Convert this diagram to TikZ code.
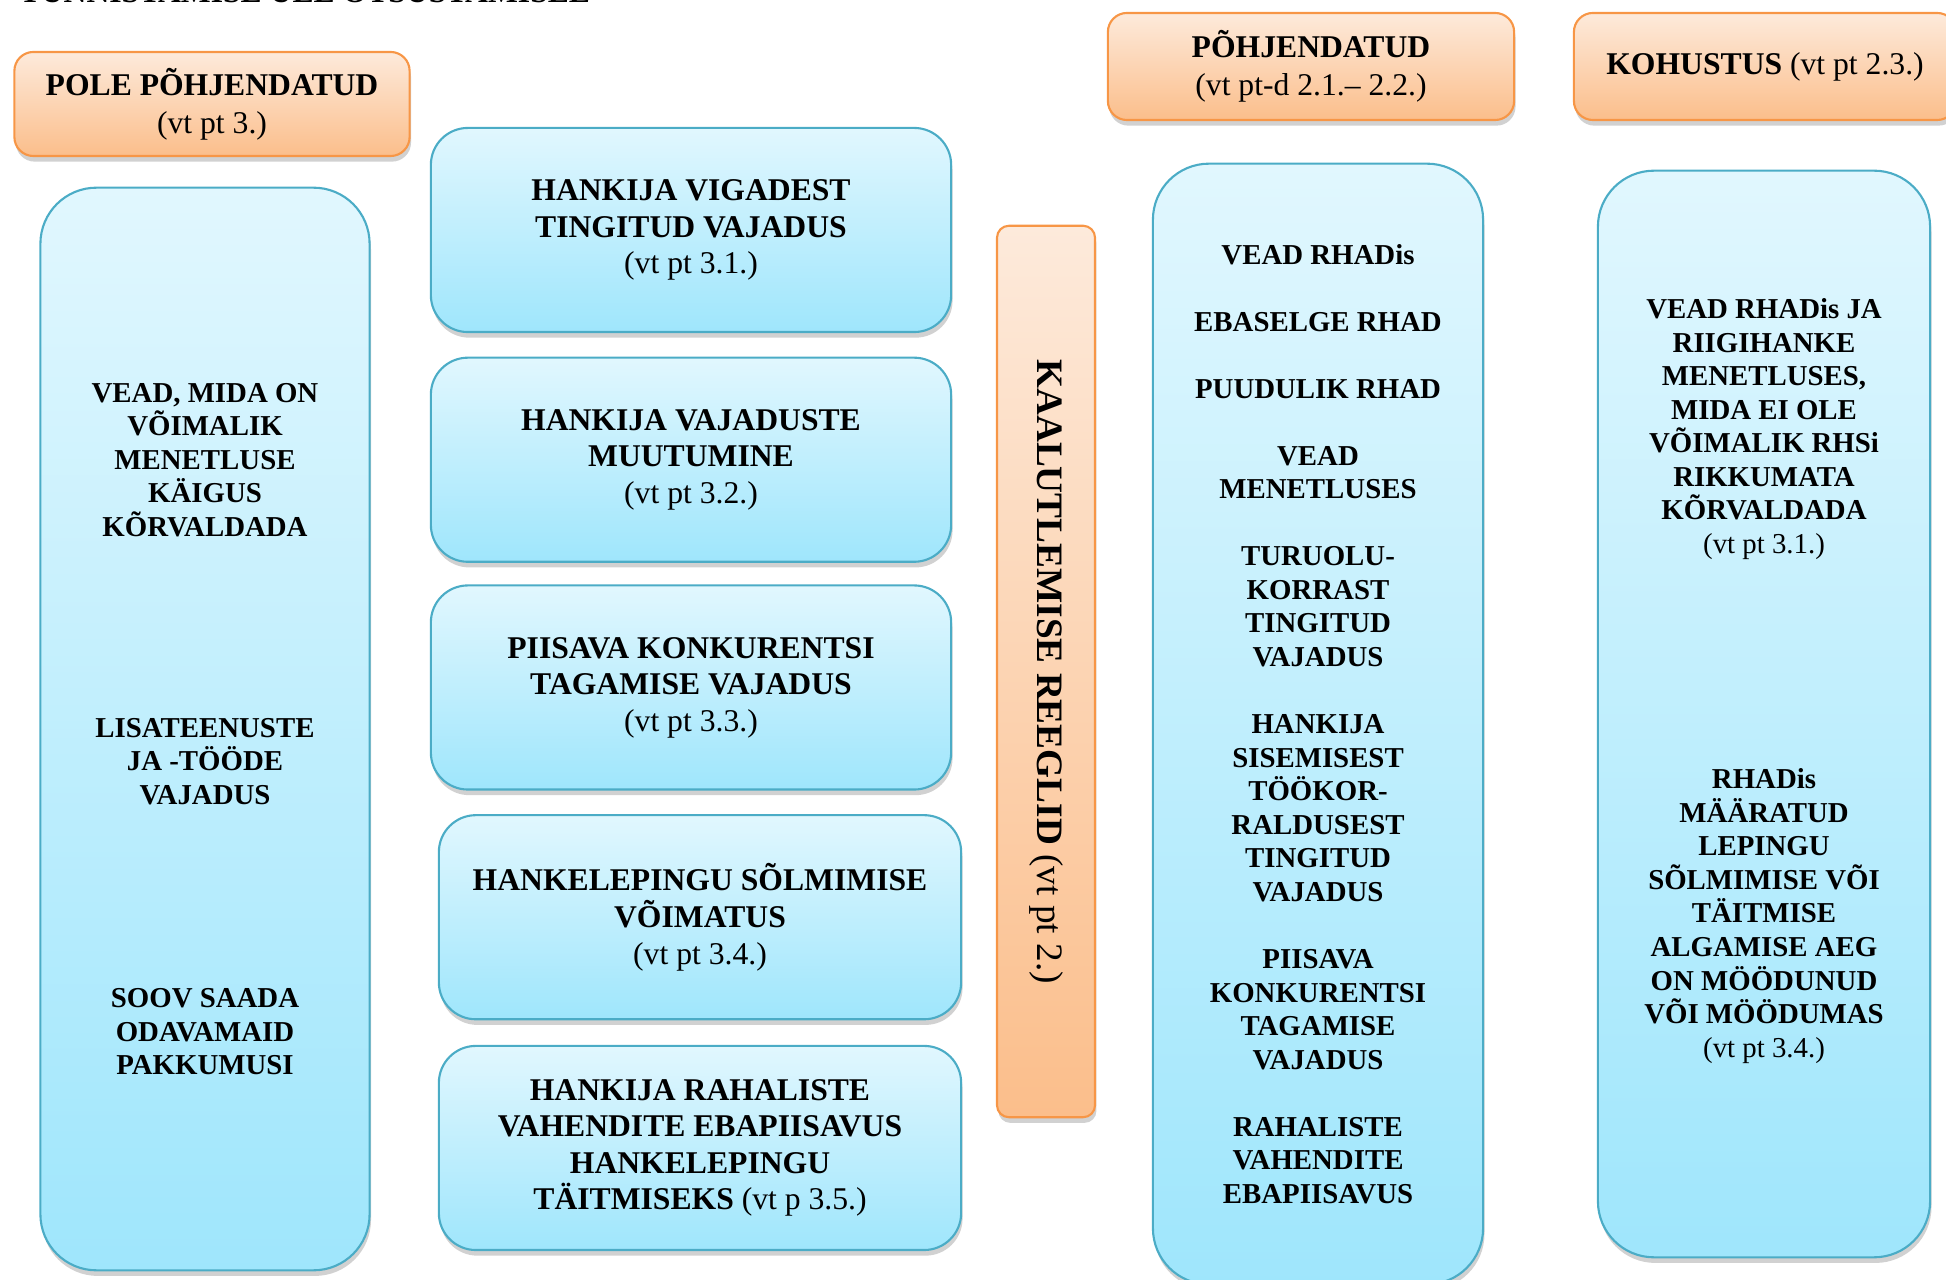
\documentclass[tikz,border=0pt]{standalone}
\usepackage{fontspec}
\setmainfont{Liberation Serif}
\usepackage{tikz}
\usetikzlibrary{positioning,shadows}
\definecolor{aqualine}{HTML}{4BACC6}
\definecolor{aquatop}{HTML}{E1F7FE}
\definecolor{aquabot}{HTML}{9FE6FC}
\definecolor{orline}{HTML}{F79646}
\definecolor{ortop}{HTML}{FDEADB}
\definecolor{orbot}{HTML}{FBBE8B}
\tikzset{head/.style={draw=orline,line width=0.6pt,top color=ortop,bottom color=orbot,rounded corners=1.9mm,align=center,font=\fontsize{9}{10.9}\selectfont,inner sep=0pt,drop shadow={shadow xshift=0.4pt,shadow yshift=-1.6pt,opacity=0.3,fill=black!60}},item/.style={head,draw=aqualine,top color=aquatop,bottom color=aquabot,rounded corners=3.7mm,font=\bfseries\fontsize{9}{10.4}\selectfont,minimum width=52mm,minimum height=20.4mm},col/.style={item,rounded corners=5.6mm,font=\bfseries\fontsize{8.2}{9.55}\selectfont,minimum width=33mm}}

\begin{document}
\begin{tikzpicture}[x=0.01cm,y=-0.01cm]
\useasboundingbox (0,0) rectangle (1946,1280);
\node[anchor=base west,inner sep=0pt,font=\bfseries\fontsize{9}{10.9}\selectfont] (title) at (19,3) {TUNNISTAMISE ÜLE OTSUSTAMISEL};
% pole pohjendatud
\node[head,minimum width=39.5mm,minimum height=10.4mm] (pole) at (212,104) {\textbf{POLE PÕHJENDATUD}\\(vt pt 3.)};
\node[col,minimum width=32.9mm,minimum height=108.2mm] (c1) at (205,729) {VEAD, MIDA ON\\VÕIMALIK\\MENETLUSE\\KÄIGUS\\KÕRVALDADA\\[47.5pt]LISATEENUSTE\\JA -TÖÖDE\\VAJADUS\\[48.2pt]SOOV SAADA\\ODAVAMAID\\PAKKUMUSI};
\node[item] (b1) at (691,230) {HANKIJA VIGADEST\\TINGITUD VAJADUS\\\textmd{(vt pt 3.1.)}};
\node[item,below=2.35mm of b1] (b2) {HANKIJA VAJADUSTE\\MUUTUMINE\\\textmd{(vt pt 3.2.)}};
\node[item,below=2.15mm of b2] (b3) {PIISAVA KONKURENTSI\\TAGAMISE VAJADUS\\\textmd{(vt pt 3.3.)}};
\node[item,below=2.35mm of b3,xshift=0.9mm,minimum width=52.2mm] (b4) {HANKELEPINGU SÕLMIMISE\\VÕIMATUS\\\textmd{(vt pt 3.4.)}};
\node[item,below=2.45mm of b4,minimum width=52.2mm] (b5) {HANKIJA RAHALISTE\\VAHENDITE EBAPIISAVUS\\HANKELEPINGU\\TÄITMISEKS \textmd{(vt p 3.5.)}};
% kaalutlemine
\node[head,rotate=-90,rounded corners=1.2mm,minimum width=89.1mm,minimum height=9.8mm,font=\fontsize{10.6}{12}\selectfont] (kaal) at (1046,671.5) {\textbf{KAALUTLEMISE REEGLID} (vt pt 2.)};
% pohjendatud
\node[head,minimum width=40.6mm,minimum height=10.7mm] (pohj) at (1311,66.5) {\textbf{PÕHJENDATUD}\\(vt pt-d 2.1.-- 2.2.)};
\node[col,minimum height=112mm] (c4) at (1318,724) {VEAD RHADis\\[9.5pt]EBASELGE RHAD\\[9.5pt]PUUDULIK RHAD\\[9.5pt]VEAD\\MENETLUSES\\[9.5pt]TURUOLU-\\KORRAST\\TINGITUD\\VAJADUS\\[9.5pt]HANKIJA\\SISEMISEST\\TÖÖKOR-\\RALDUSEST\\TINGITUD\\VAJADUS\\[9.5pt]PIISAVA\\KONKURENTSI\\TAGAMISE\\VAJADUS\\[9.5pt]RAHALISTE\\VAHENDITE\\EBAPIISAVUS};
% kohustus
\node[head,minimum width=38.2mm,minimum height=10.7mm] (koh) at (1765,66.5) {\textbf{KOHUSTUS} (vt pt 2.3.)};
\node[col,minimum width=33.2mm,minimum height=108.6mm] (c5) at (1764,714) {VEAD RHADis JA\\RIIGIHANKE\\MENETLUSES,\\MIDA EI OLE\\VÕIMALIK RHSi\\RIKKUMATA\\KÕRVALDADA\\\textmd{(vt pt 3.1.)}\\[57.3pt]RHADis\\MÄÄRATUD\\LEPINGU\\SÕLMIMISE VÕI\\TÄITMISE\\ALGAMISE AEG\\ON MÖÖDUNUD\\VÕI MÖÖDUMAS\\\textmd{(vt pt 3.4.)}\\[11pt]\mbox{}};
\end{tikzpicture}
\end{document}
